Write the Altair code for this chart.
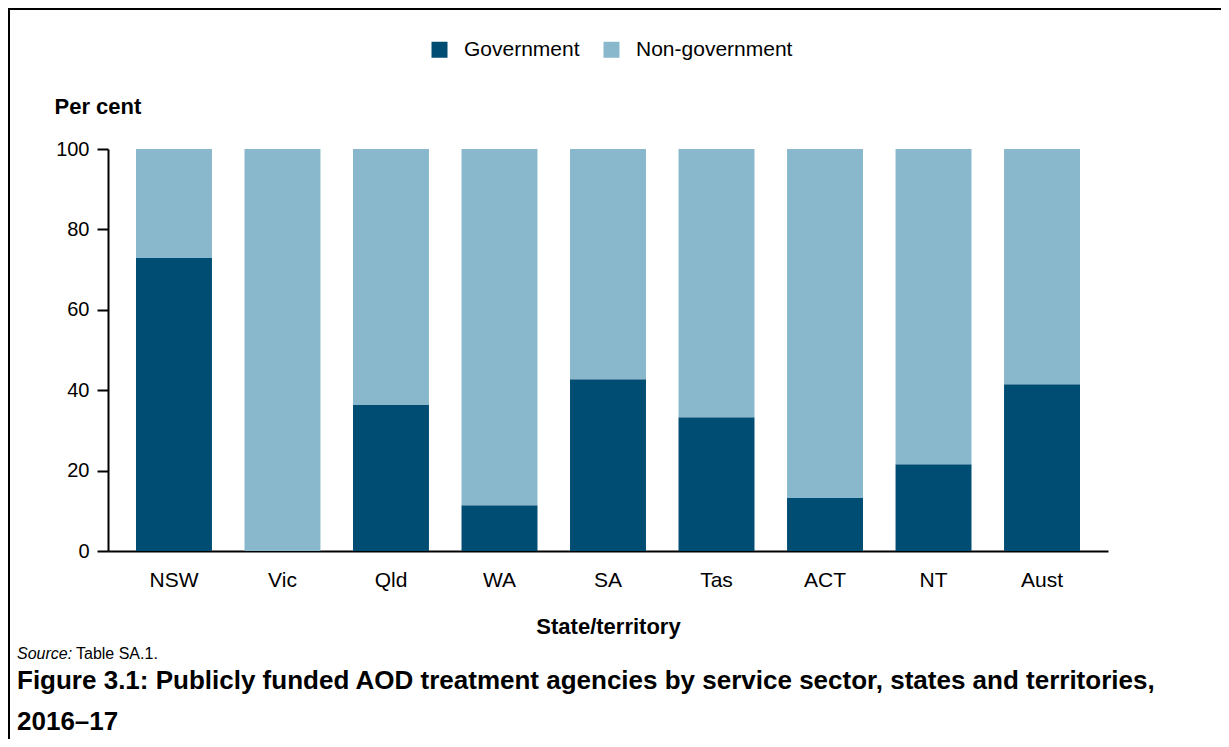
import altair as alt
import pandas as pd

FONT = "Liberation Sans"

states = ["NSW", "Vic", "Qld", "WA", "SA", "Tas", "ACT", "NT", "Aust"]
government = [72.9, 0.0, 36.3, 11.4, 42.7, 33.3, 13.2, 21.6, 41.5]
non_government = [27.1, 100.0, 63.7, 88.6, 57.3, 66.7, 86.8, 78.4, 58.5]
sectors = ["Government", "Non-government"]
colors = ["#004d73", "#89b8cc"]
y_ticks = [0, 20, 40, 60, 80, 100]

rows = []
for s, g, n in zip(states, government, non_government):
    rows.append({"state": s, "sector": sectors[0], "value": g, "ord": 0})
    rows.append({"state": s, "sector": sectors[1], "value": n, "ord": 1})
df = pd.DataFrame(rows)

bars = alt.Chart(df).mark_bar().encode(
    x=alt.X("state:N", sort=states,
            scale=alt.Scale(paddingInner=0.3, paddingOuter=0.258),
            axis=alt.Axis(title="State/territory", labelAngle=0, labelFontSize=21,
                          labelFont=FONT, labelColor="black", labelPadding=18,
                          ticks=False, domainColor="black", domainWidth=2,
                          titleFont=FONT, titleFontSize=22, titleFontWeight="bold",
                          titleColor="black", titleY=75, titleBaseline="middle")),
    y=alt.Y("value:Q", stack="zero",
            scale=alt.Scale(domain=[0, 100], nice=False),
            axis=alt.Axis(title="Per cent", values=y_ticks, grid=False,
                          labelFontSize=20, labelFont=FONT, labelColor="black",
                          labelPadding=8, tickSize=11, tickColor="black", tickWidth=2,
                          domainColor="black", domainWidth=2,
                          titleFont=FONT, titleFontSize=22, titleFontWeight="bold",
                          titleColor="black", titleAngle=0, titleAlign="left",
                          titleBaseline="middle", titleX=-54, titleY=-43)),
    color=alt.Color("sector:N", scale=alt.Scale(domain=sectors, range=colors),
                    legend=alt.Legend(title=None, orient="none", legendX=321, legendY=-110,
                                      direction="horizontal", symbolType="square",
                                      symbolSize=256, symbolStrokeWidth=0,
                                      labelFont=FONT, labelFontSize=21, labelColor="black",
                                      labelOffset=14, columnPadding=21, padding=0)),
    order=alt.Order("ord:Q"),
)

border = alt.Chart(pd.DataFrame({"a": [0]})).mark_rect(
    filled=False, stroke="black", strokeWidth=2
).encode(x=alt.value(-99), x2=alt.value(1300), y=alt.value(-140), y2=alt.value(700))

src_it = alt.Chart(pd.DataFrame({"t": ["Source:"]})).mark_text(
    align="left", baseline="alphabetic", font=FONT, fontSize=16, fontStyle="italic", color="black"
).encode(x=alt.value(-91), y=alt.value(510), text="t:N")

src = alt.Chart(pd.DataFrame({"t": ["Table SA.1."]})).mark_text(
    align="left", baseline="alphabetic", font=FONT, fontSize=16, color="black"
).encode(x=alt.value(-32), y=alt.value(510), text="t:N")

cap1 = alt.Chart(pd.DataFrame({"t": ["Figure 3.1: Publicly funded AOD treatment agencies by service sector, states and territories,"]})).mark_text(
    align="left", baseline="alphabetic", font=FONT, fontSize=26, fontWeight="bold", color="black"
).encode(x=alt.value(-91), y=alt.value(540), text="t:N")

cap2 = alt.Chart(pd.DataFrame({"t": ["2016–17"]})).mark_text(
    align="left", baseline="alphabetic", font=FONT, fontSize=26, fontWeight="bold", color="black"
).encode(x=alt.value(-91), y=alt.value(581), text="t:N")

chart = alt.layer(bars, border, src_it, src, cap1, cap2).properties(
    width=1000, height=402,
    autosize=alt.AutoSizeParams(type="none"),
    padding={"left": 100, "top": 141, "right": 113, "bottom": 188},
).configure_view(stroke=None)

chart.save("out.html", embed_options={"renderer": "svg", "actions": False})
